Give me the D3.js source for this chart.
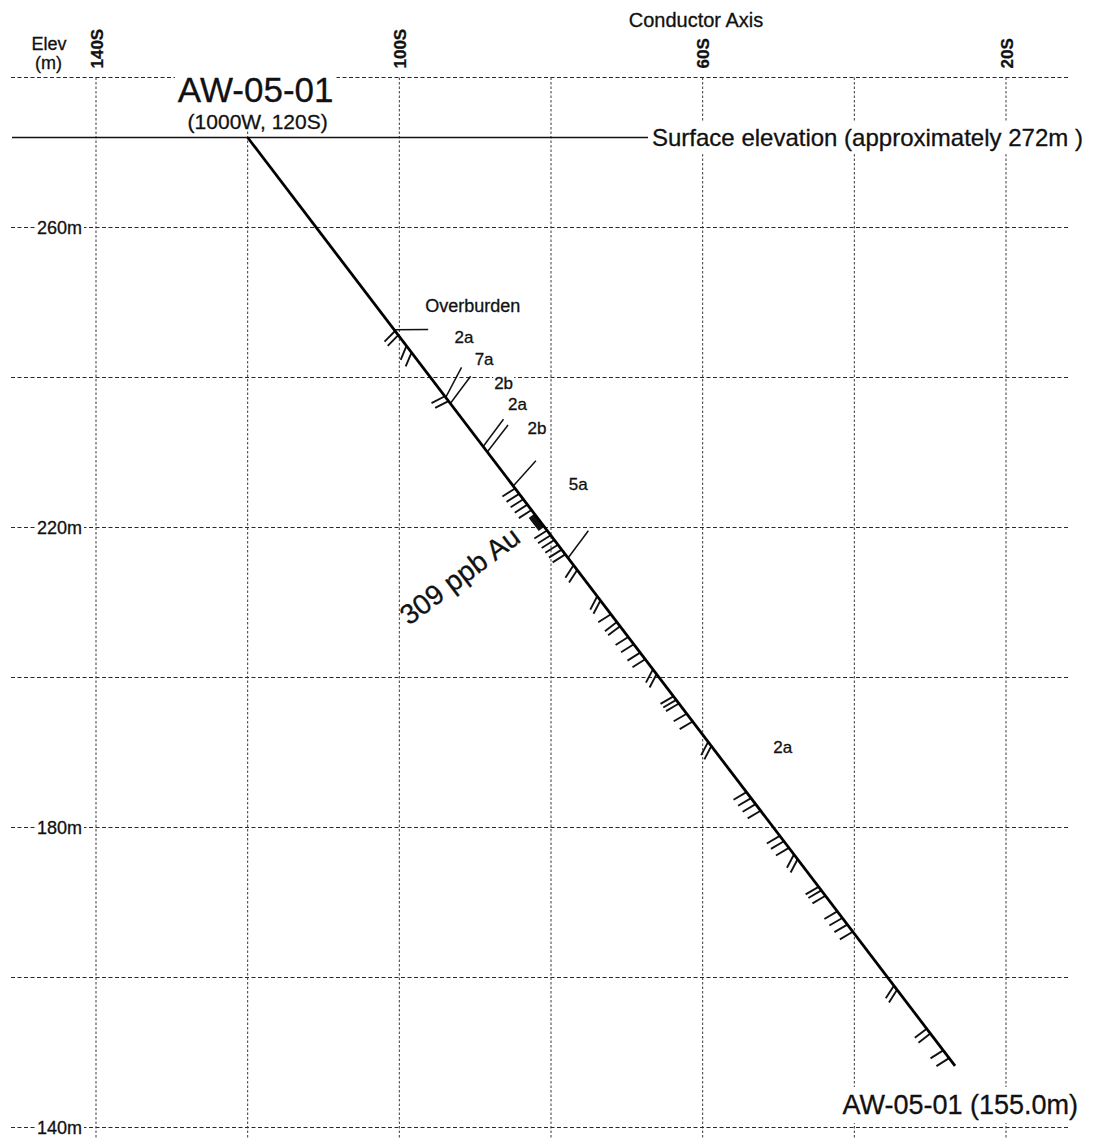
<!DOCTYPE html>
<html>
<head>
<meta charset="utf-8">
<script src="https://cdn.jsdelivr.net/npm/d3@7"></script>
<style>
  html, body { margin: 0; padding: 0; background: #fff; }
  svg { display: block; }
  svg text { stroke: #111; stroke-width: 0.3px; paint-order: stroke; }
</style>
</head>
<body>
<svg id="chart" width="1095" height="1139"></svg>
<script>
// ---- Section grid (conductor axis northing in metres S, elevation in m) ----
const northingGrid   = [140, 120, 100, 80, 60, 40, 20];
const northingLabels = [140, 100, 60, 20];
const elevGrid       = [280, 260, 240, 220, 200, 180, 160, 140];
const elevLabels     = [260, 220, 180, 140];

// ---- Drill hole AW-05-01 ----
const holeId         = "AW-05-01";
const collarGrid     = "(1000W, 120S)";
const collarNorthing = 120;     // m S
const surfaceElev    = 272;     // m
const holeDip        = 53;      // degrees below horizontal
const holeLength     = 155.0;   // m

// ---- Logged units: code, from (m), to (m) ----
const unitCodes = ["Overburden", "2a", "7a", "2b", "2a", "2b", "5a", "2a"];
const unitFrom  = [0, 32.1, 43.4, 44.4, 51.6, 52.5, 58.2, 70.2];
const unitTo    = [32.1, 43.4, 44.4, 51.6, 52.5, 58.2, 70.2, 155.0];

// ---- Contacts: depth (m) and angle to core axis (deg) ----
const contactDepth = [32.1, 43.4, 44.4, 51.6, 52.5, 58.2, 70.2];
const contactAngle = [53, 115, 106, 106, 105, 101, 106];

// ---- Foliation readings: [depth (m), angle to core axis (deg)] ----
const foliation = [
  [32.3, 82], [33.0, 82], [34.8, 60], [35.9, 60], [43.2, 100], [44.0, 100],
  [58.6, 95], [59.5, 95], [60.4, 95], [61.3, 95], [62.2, 95],
  [65.6, 95], [66.4, 95], [67.2, 95], [68.0, 95], [68.8, 95], [69.6, 95],
  [71.4, 70], [72.2, 70], [76.6, 65], [77.3, 65], [79.6, 95], [80.9, 90], [81.6, 90],
  [83.4, 95], [84.6, 95], [86.0, 95], [87.1, 95], [88.8, 65], [89.6, 65],
  [93.3, 97], [93.9, 97], [94.5, 97], [96.2, 97], [97.5, 97], [100.9, 65], [101.6, 65],
  [109.3, 97], [110.3, 97], [111.3, 97], [112.4, 97],
  [116.6, 97], [117.5, 97], [118.6, 97], [119.7, 65], [120.5, 65],
  [125.1, 97], [125.7, 97], [126.6, 97],
  [129.2, 97], [130.3, 97], [131.4, 97], [132.6, 97],
  [141.6, 70], [142.3, 70], [148.8, 90], [149.6, 90], [152.4, 95], [153.7, 95]
];

// ---- Assay interval ----
const assayFrom = 62.8, assayTo = 65.0;
const assayText = "309 ppb Au";

// =====================================================================
const FONT = '"Liberation Sans", Arial, Helvetica, sans-serif';
const W = 1095, H = 1139;
const svg = d3.select("#chart").attr("font-family", FONT);

const x = d3.scaleLinear().domain([140, 20]).range([96, 1006]);
const y = d3.scaleLinear().domain([280, 140]).range([77.5, 1127.5]);
const gridLeft = 11, gridRight = 1070;

// Hole geometry in section coordinates -> screen
const dipRad = holeDip * Math.PI / 180;
const holeAt = d => [x(collarNorthing - d * Math.cos(dipRad)), y(surfaceElev - d * Math.sin(dipRad))];
const pTop = holeAt(0), pEnd = holeAt(holeLength);
const pxLen = Math.hypot(pEnd[0] - pTop[0], pEnd[1] - pTop[1]);
const u = [(pEnd[0] - pTop[0]) / pxLen, (pEnd[1] - pTop[1]) / pxLen]; // down-hole
const sideUp = [u[1], -u[0]];   // hanging-wall side (upper right)
const sideDn = [-u[1], u[0]];   // footwall side (lower left)
const dirFrom = (deg, side) => {
  const r = deg * Math.PI / 180;
  return [Math.cos(r) * u[0] + Math.sin(r) * side[0], Math.cos(r) * u[1] + Math.sin(r) * side[1]];
};
const offset = (p, v, k) => [p[0] + v[0] * k, p[1] + v[1] * k];

// White box behind a text element so grid lines stop at it
function knockout(node, pad) {
  const b = node.getBBox();
  const r = document.createElementNS("http://www.w3.org/2000/svg", "rect");
  node.parentNode.insertBefore(r, node);
  d3.select(r).attr("x", b.x - pad).attr("y", b.y - pad)
    .attr("width", b.width + 2 * pad).attr("height", b.height + 2 * pad)
    .attr("fill", "#fff")
    .attr("transform", node.getAttribute("transform"));
}

// ---- grid ----
const gGrid = svg.append("g");
gGrid.append("g").selectAll("line").data(elevGrid).join("line")
  .attr("x1", gridLeft).attr("x2", gridRight)
  .attr("y1", d => y(d)).attr("y2", d => y(d))
  .attr("stroke", "#2a2a2a").attr("stroke-width", 1.1).attr("stroke-dasharray", "4,2.5");
gGrid.append("g").selectAll("line").data(northingGrid).join("line")
  .attr("x1", d => x(d)).attr("x2", d => x(d))
  .attr("y1", y(280)).attr("y2", H)
  .attr("stroke", "#3a3a3a").attr("stroke-width", 1).attr("stroke-dasharray", "2.5,2");

// ---- axes ----
const yAxis = d3.axisLeft(y).tickValues(elevLabels).tickFormat(d => d + "m").tickSize(0).tickPadding(0);
const gy = svg.append("g").attr("transform", "translate(82,0)").call(yAxis);
gy.select(".domain").remove();
gy.attr("font-family", FONT).attr("font-size", 18);
gy.selectAll("text").attr("fill", "#111").attr("dy", "0.35em");
gy.selectAll("text").each(function () { knockout(this, 2); });

const xAxis = d3.axisTop(x).tickValues(northingLabels).tickFormat(d => d + "S").tickSize(0).tickPadding(0);
const gx = svg.append("g").attr("transform", "translate(0,68.5)").call(xAxis);
gx.select(".domain").remove();
gx.attr("font-family", FONT).attr("font-size", 17).attr("font-weight", "bold");
gx.selectAll("text")
  .attr("fill", "#111")
  .attr("x", 0).attr("y", 0).attr("dy", "0.36em")
  .attr("text-anchor", "start")
  .attr("transform", "rotate(-90)");

svg.append("text").attr("x", 696).attr("y", 26.5).attr("text-anchor", "middle")
  .attr("font-size", 20).attr("fill", "#111").text("Conductor Axis");
svg.append("text").attr("x", 49).attr("y", 50).attr("text-anchor", "middle")
  .attr("font-size", 18).attr("fill", "#111").text("Elev");
svg.append("text").attr("x", 48.5).attr("y", 69).attr("text-anchor", "middle")
  .attr("font-size", 18).attr("fill", "#111").text("(m)");

// ---- collar title ----
const cx = x(collarNorthing), cy = y(surfaceElev);
const gTitle = svg.append("g");
const tTitle = gTitle.append("text").attr("x", cx + 8).attr("y", cy - 36).attr("text-anchor", "middle")
  .attr("font-size", 35).attr("fill", "#111").text(holeId);
const tSub = gTitle.append("text").attr("x", cx + 10).attr("y", cy - 9).attr("text-anchor", "middle")
  .attr("font-size", 21).attr("fill", "#111").text(collarGrid);
{
  const a = tTitle.node().getBBox(), b = tSub.node().getBBox();
  const x0 = Math.min(a.x, b.x) - 3, x1 = Math.max(a.x + a.width, b.x + b.width) + 3;
  gTitle.insert("rect", "text").attr("x", x0).attr("y", a.y - 2)
    .attr("width", x1 - x0).attr("height", (b.y + b.height) - a.y).attr("fill", "#fff");
}

// ---- surface line and label ----
const surfLabelX = 652;
const tSurf = svg.append("text").attr("x", surfLabelX).attr("y", cy + 8.6)
  .attr("font-size", 24).attr("fill", "#111")
  .text("Surface elevation (approximately " + surfaceElev + "m )");
knockout(tSurf.node(), 3);
svg.append("line").attr("x1", gridLeft + 1).attr("x2", surfLabelX - 4)
  .attr("y1", cy).attr("y2", cy).attr("stroke", "#111").attr("stroke-width", 1.6);

// ---- end-of-hole label ----
const tEnd = svg.append("text").attr("x", 1078).attr("y", 1114).attr("text-anchor", "end")
  .attr("font-size", 27).attr("fill", "#111")
  .text(holeId + " (" + holeLength.toFixed(1) + "m)");
knockout(tEnd.node(), 3);

// ---- unit labels (placed beside the hole on the hanging-wall side) ----
const unitLabelPlacement = [[35.9, 77], [38.5, 51], [42.4, 54], [46.5, 55], [49.9, 53], [54.0, 54], [63.2, 53], [107.5, 56]];
const gUnits = svg.append("g");
unitCodes.forEach((code, i) => {
  const [dep, off] = unitLabelPlacement[i];
  const p = offset(holeAt(dep), sideUp, off);
  const t = gUnits.append("text").attr("x", p[0]).attr("y", p[1]).attr("dy", "0.35em")
    .attr("text-anchor", "middle").attr("font-size", code === "Overburden" ? 18 : 17)
    .attr("fill", "#111").text(code);
  knockout(t.node(), 1);
});

// ---- contacts ----
const contactLen = 34;
svg.append("g").selectAll("line").data(contactDepth.map((d, i) => [d, contactAngle[i]])).join("line")
  .each(function ([d, a]) {
    const p = holeAt(d), q = offset(p, dirFrom(a, sideUp), contactLen);
    d3.select(this).attr("x1", p[0]).attr("y1", p[1]).attr("x2", q[0]).attr("y2", q[1]);
  })
  .attr("stroke", "#111").attr("stroke-width", 1.5);

// ---- foliation ticks ----
const tickLen = 15;
svg.append("g").selectAll("line").data(foliation).join("line")
  .each(function ([d, a]) {
    const p = holeAt(d), q = offset(p, dirFrom(a, sideDn), tickLen);
    d3.select(this).attr("x1", p[0]).attr("y1", p[1]).attr("x2", q[0]).attr("y2", q[1]);
  })
  .attr("stroke", "#111").attr("stroke-width", 1.9).attr("stroke-linecap", "butt");

// ---- assay interval ----
{
  const a = holeAt(assayFrom), b = holeAt(assayTo), w = 7;
  const pts = [a, b, offset(b, sideDn, w), offset(a, sideDn, w)];
  svg.append("polygon").attr("points", pts.map(p => p.join(",")).join(" ")).attr("fill", "#111");
  const mid = (assayFrom + assayTo) / 2;
  const lp = offset(holeAt(mid + 0.8), sideDn, 26);
  svg.append("text").attr("transform", `translate(${lp[0]},${lp[1]}) rotate(-37)`)
    .attr("text-anchor", "end").attr("font-size", 28).attr("fill", "#111").text(assayText);
}

// ---- drill trace ----
svg.append("line")
  .attr("x1", pTop[0]).attr("y1", pTop[1]).attr("x2", pEnd[0]).attr("y2", pEnd[1])
  .attr("stroke", "#000").attr("stroke-width", 2.8).attr("stroke-linecap", "butt");
</script>
</body>
</html>
